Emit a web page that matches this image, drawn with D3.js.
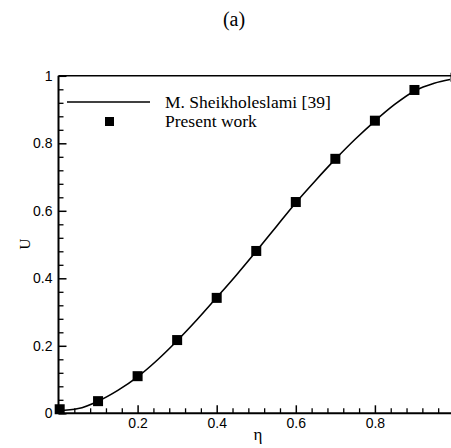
<!DOCTYPE html>
<html><head><meta charset="utf-8">
<script src="https://cdn.jsdelivr.net/npm/d3@7"></script>
<style>
html,body{margin:0;padding:0;background:#fff;}
svg{display:block;}
.tick text{font-family:"Liberation Sans",Arial,sans-serif;font-size:14px;fill:#000;}
</style></head><body>
<svg id="c" width="451" height="448"></svg>
<script>
// Reference curve (M. Sheikholeslami [39])
const lineEta = [0, 0.05, 0.1, 0.15, 0.2, 0.25, 0.3, 0.35, 0.4, 0.45, 0.5, 0.55, 0.6, 0.65, 0.7, 0.75, 0.8, 0.85, 0.9, 0.95, 0.99];
const lineU   = [0.008, 0.014, 0.036, 0.068, 0.108, 0.158, 0.215, 0.277, 0.343, 0.41, 0.48, 0.552, 0.624, 0.69, 0.753, 0.812, 0.866, 0.915, 0.955, 0.978, 0.989];
// Present work (squares)
const ptEta = [0.003, 0.1, 0.2, 0.3, 0.4, 0.5, 0.6, 0.7, 0.8, 0.9];
const ptU   = [0.012, 0.036, 0.11, 0.217, 0.342, 0.481, 0.626, 0.754, 0.867, 0.958];
const xTicks = [0.2, 0.4, 0.6, 0.8];
const yTicks = [0, 0.2, 0.4, 0.6, 0.8, 1];
const legendLabels = ["M. Sheikholeslami [39]", "Present work"];

const svg = d3.select("#c");
const x = d3.scaleLinear().domain([0, 1]).range([58.5, 454]);
const y = d3.scaleLinear().domain([0, 1]).range([413.3, 75.8]);
const xMax = 0.995;

// title
svg.append("text").attr("x", 234).attr("y", 26).attr("text-anchor", "middle")
  .attr("font-family", "'Liberation Serif','Times New Roman',serif").attr("font-size", 20).text("(a)");

// minor ticks
const minorX = d3.range(0, 0.9999, 0.04).filter(v => !xTicks.some(t => Math.abs(t - v) < 1e-6) && v > 0.001);
const minorY = d3.range(0.04, 1, 0.04).filter(v => !yTicks.some(t => Math.abs(t - v) < 1e-6));

svg.append("g").attr("transform", `translate(0,${y(0)})`)
  .call(d3.axisBottom(x).tickValues(minorX).tickSize(-5).tickFormat(""))
  .call(g => g.select(".domain").remove())
  .selectAll("line").attr("stroke", "#000").attr("stroke-width", 1.3);
svg.append("g").attr("transform", `translate(${x(0)},0)`)
  .call(d3.axisLeft(y).tickValues(minorY).tickSize(-5).tickFormat(""))
  .call(g => g.select(".domain").remove())
  .selectAll("line").attr("stroke", "#000").attr("stroke-width", 1.3);

// major ticks
const gx = svg.append("g").attr("transform", `translate(0,${y(0)})`)
  .call(d3.axisBottom(x).tickValues(xTicks).tickSize(-8).tickPadding(5).tickFormat(d3.format("")))
  .call(g => g.select(".domain").remove());
gx.selectAll("line").attr("stroke", "#000").attr("stroke-width", 1.5);
const gy = svg.append("g").attr("transform", `translate(${x(0)},0)`)
  .call(d3.axisLeft(y).tickValues(yTicks).tickSize(-8).tickPadding(4).tickFormat(d3.format("")))
  .call(g => g.select(".domain").remove());
gy.selectAll("line").attr("stroke", "#000").attr("stroke-width", 1.5);
gy.selectAll("text").attr("dx", "-2");

// frame lines
svg.append("line").attr("x1", x(0)).attr("x2", 451).attr("y1", y(0)).attr("y2", y(0)).attr("stroke", "#000").attr("stroke-width", 2);
svg.append("line").attr("x1", x(0)).attr("x2", x(0)).attr("y1", y(0)).attr("y2", y(1)).attr("stroke", "#000").attr("stroke-width", 2);
svg.append("line").attr("x1", x(0)).attr("x2", x(xMax) - 0.5).attr("y1", y(1)).attr("y2", y(1)).attr("stroke", "#000").attr("stroke-width", 1.6);
svg.append("line").attr("x1", x(xMax) - 0.5).attr("x2", x(xMax) - 0.5).attr("y1", y(1) - 3).attr("y2", y(1) + 6).attr("stroke", "#000").attr("stroke-width", 2);

// curve
const lineData = lineEta.map((e, i) => [e, lineU[i]]);
svg.append("path").datum(lineData)
  .attr("d", d3.line().x(d => x(d[0])).y(d => y(d[1])).curve(d3.curveMonotoneX))
  .attr("fill", "none").attr("stroke", "#000").attr("stroke-width", 1.6);

// squares
const s = 10;
svg.append("g").selectAll("rect").data(ptEta.map((e, i) => [e, ptU[i]])).join("rect")
  .attr("x", d => x(d[0]) - s / 2).attr("y", d => y(d[1]) - s / 2)
  .attr("width", s).attr("height", s).attr("fill", "#000");

// axis titles
svg.append("text").attr("x", 258).attr("y", 440).attr("text-anchor", "middle")
  .attr("font-family", "'Liberation Serif','Times New Roman',serif").attr("font-size", 17).text("η");
svg.append("text").attr("transform", "translate(30,244) rotate(-90)").attr("text-anchor", "middle")
  .attr("font-family", "'Liberation Serif','Times New Roman',serif").attr("font-size", 15).text("U");

// legend
const lg = svg.append("g").attr("font-family", "'Liberation Serif','Times New Roman',serif").attr("font-size", 17.5);
lg.append("line").attr("x1", 67).attr("x2", 150).attr("y1", 102).attr("y2", 102).attr("stroke", "#000").attr("stroke-width", 1.6);
lg.append("text").attr("x", 165).attr("y", 107.5).text(legendLabels[0]);
lg.append("rect").attr("x", 105).attr("y", 117).attr("width", 9).attr("height", 9).attr("fill", "#000");
lg.append("text").attr("x", 165).attr("y", 127).text(legendLabels[1]);
</script>
</body></html>
